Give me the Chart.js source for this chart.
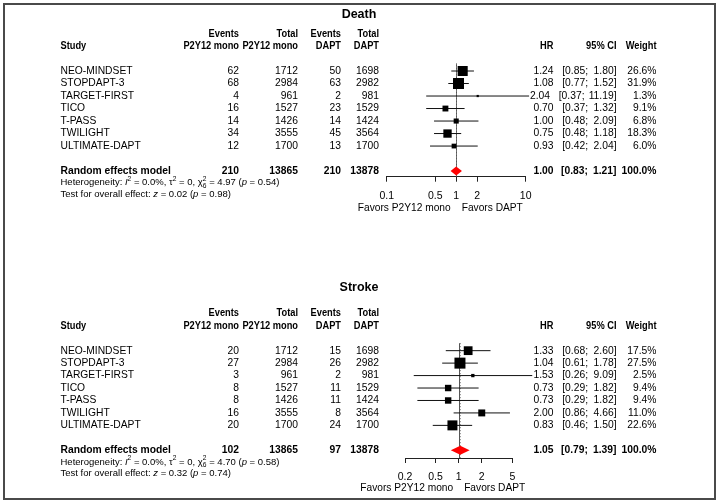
<!DOCTYPE html>
<html>
<head>
<meta charset="utf-8">
<script src="https://cdn.jsdelivr.net/npm/chart.js@4.4.1/dist/chart.umd.min.js"></script>
<style>
  body { margin: 0; background: #fff; }
  #frame { position: absolute; left: 3px; top: 3px; width: 713px; height: 497px; border: 2px solid #4a4a4a; box-sizing: border-box; }
  canvas { position: absolute; left: 0; }
</style>
</head>
<body>
<div id="frame"></div>
<canvas id="death" width="718" height="250" style="top:0px"></canvas>
<canvas id="stroke" width="718" height="253" style="top:250px"></canvas>
<script>
// studies and group sizes (same in both panels)
const studies = ['NEO-MINDSET', 'STOPDAPT-3', 'TARGET-FIRST', 'TICO', 'T-PASS', 'TWILIGHT', 'ULTIMATE-DAPT'];
const totalMono = [1712, 2984, 961, 1527, 1426, 3555, 1700];
const totalDapt = [1698, 2982, 981, 1529, 1424, 3564, 1700];

// death
const deathEventsMono = [62, 68, 4, 16, 14, 34, 12];
const deathEventsDapt = [50, 63, 2, 23, 14, 45, 13];
const deathHR = [1.24, 1.08, 2.04, 0.70, 1.00, 0.75, 0.93];
const deathLower = [0.85, 0.77, 0.37, 0.37, 0.48, 0.48, 0.42];
const deathUpper = [1.80, 1.52, 11.19, 1.32, 2.09, 1.18, 2.04];
const deathWeight = [26.6, 31.9, 1.3, 9.1, 6.8, 18.3, 6.0];
const deathPooled = [1.00, 0.83, 1.21];          // HR, lower, upper
const deathTotals = [210, 13865, 210, 13878];
const deathHet = ['0.0', '0', '4.97', 6, '0.54']; // I2, tau2, chi2, df, p
const deathTest = ['0.02', '0.98'];              // z, p
const deathTicks = [0.1, 0.5, 1, 2, 10];

// stroke
const strokeEventsMono = [20, 27, 3, 8, 8, 16, 20];
const strokeEventsDapt = [15, 26, 2, 11, 11, 8, 24];
const strokeHR = [1.33, 1.04, 1.53, 0.73, 0.73, 2.00, 0.83];
const strokeLower = [0.68, 0.61, 0.26, 0.29, 0.29, 0.86, 0.46];
const strokeUpper = [2.60, 1.78, 9.09, 1.82, 1.82, 4.66, 1.50];
const strokeWeight = [17.5, 27.5, 2.5, 9.4, 9.4, 11.0, 22.6];
const strokePooled = [1.05, 0.79, 1.39];
const strokeTotals = [102, 13865, 97, 13878];
const strokeHet = ['0.0', '0', '4.70', 6, '0.58'];
const strokeTest = ['0.32', '0.74'];
const strokeTicks = [0.2, 0.5, 1, 2, 5];

const FONT = '"Liberation Sans", Arial, Helvetica, sans-serif';
const FS = 10.3;   // table rows
const HS = 10.3;   // column headers (drawn a bit narrower)
const HX = 0.9;

// column x positions (right edges unless noted)
const COL = { study: 60.5, evMono: 239, totMono: 298, evDapt: 341, totDapt: 379, hr: 553.5, ciMid: 588, ci: 616.5, wt: 656.5 };

function setFont(ctx, size, bold, italic) {
  ctx.font = (italic ? 'italic ' : '') + (bold ? 'bold ' : '') + size + 'px ' + FONT;
}

function text(ctx, s, x, y, align, size, bold, sx) {
  setFont(ctx, size, bold);
  ctx.textAlign = align;
  ctx.save();
  ctx.translate(x, y);
  ctx.scale(sx || 1, 1);
  ctx.fillText(s, 0, 0);
  ctx.restore();
}

// draws mixed text: [str, style] with style '', 'i', 'sup', 'stack' ("2|6")
function rich(ctx, x, y, parts, size) {
  ctx.textAlign = 'left';
  parts.forEach(([s, st]) => {
    if (st === 'sup') {
      setFont(ctx, size * 0.7);
      ctx.fillText(s, x, y - size * 0.38);
      x += ctx.measureText(s).width;
    } else if (st === 'stack') {
      const [a, b] = s.split('|');
      setFont(ctx, size * 0.7);
      ctx.fillText(a, x, y - size * 0.38);
      ctx.fillText(b, x, y + size * 0.38);
      x += Math.max(ctx.measureText(a).width, ctx.measureText(b).width);
    } else {
      setFont(ctx, size, false, st === 'i');
      ctx.fillText(s, x, y);
      x += ctx.measureText(s).width;
    }
  });
}

function makePanel(cfg) {
  const n = studies.length;
  const reRow = n + 2;
  const maxW = Math.max(...cfg.weight);
  const squares = cfg.hr.map((v, i) => ({ x: v, y: i + 1 }));
  const sizes = cfg.weight.map(w => 11 * Math.sqrt(w / maxW) / Math.SQRT2);
  const ciPts = [];
  cfg.lower.forEach((lo, i) => {
    ciPts.push({ x: lo, y: i + 1 }, { x: cfg.upper[i], y: i + 1 }, { x: cfg.upper[i], y: null });
  });
  const L = cfg.layout;

  const forest = {
    id: 'forest_' + cfg.id,
    beforeDatasetsDraw(chart) {
      const { ctx, chartArea: a, scales: { x } } = chart;
      ctx.save();
      const x1 = Math.round(x.getPixelForValue(1)) + 0.5;
      ctx.strokeStyle = '#555';
      ctx.lineWidth = 1;
      ctx.beginPath(); ctx.moveTo(x1, a.top); ctx.lineTo(x1, a.bottom); ctx.stroke();
      const xp = Math.round(x.getPixelForValue(cfg.pooled[0])) + 0.5;
      ctx.strokeStyle = '#888';
      ctx.setLineDash([1, 2]);
      ctx.beginPath(); ctx.moveTo(xp, a.top); ctx.lineTo(xp, a.bottom); ctx.stroke();
      ctx.restore();
    },
    afterDatasetsDraw(chart) {
      const { ctx, scales: { x, y } } = chart;
      const cy = y.getPixelForValue(reRow);
      const xl = x.getPixelForValue(cfg.pooled[1]);
      const xm = x.getPixelForValue(cfg.pooled[0]);
      const xr = x.getPixelForValue(cfg.pooled[2]);
      ctx.save();
      ctx.fillStyle = '#ff0000';
      ctx.beginPath();
      ctx.moveTo(xl, cy); ctx.lineTo(xm, cy - 4.5); ctx.lineTo(xr, cy); ctx.lineTo(xm, cy + 4.5);
      ctx.closePath(); ctx.fill();
      ctx.restore();
    },
    afterDraw(chart) {
      const { ctx, scales: { x, y } } = chart;
      ctx.save();
      ctx.fillStyle = '#000';
      ctx.textBaseline = 'middle';
      text(ctx, cfg.title, 359, L.titleY, 'center', 12.5, true);
      // headers
      text(ctx, 'Study', COL.study, L.head2Y, 'left', HS, true, HX);
      [['Events', 'P2Y12 mono', COL.evMono], ['Total', 'P2Y12 mono', COL.totMono],
       ['Events', 'DAPT', COL.evDapt], ['Total', 'DAPT', COL.totDapt]].forEach(([h1, h2, cx]) => {
        text(ctx, h1, cx, L.head1Y, 'right', HS, true, HX);
        text(ctx, h2, cx, L.head2Y, 'right', HS, true, HX);
      });
      text(ctx, 'HR', COL.hr, L.head2Y, 'right', HS, true, HX);
      text(ctx, '95% CI', COL.ci, L.head2Y, 'right', HS, true, HX);
      text(ctx, 'Weight', COL.wt, L.head2Y, 'right', HS, true, HX);
      // study rows
      studies.forEach((s, i) => {
        const ry = y.getPixelForValue(i + 1);
        const up = cfg.upper[i].toFixed(2);
        const shift = up.length > 4 ? -3.5 : 0;   // wide upper limit pushes the CI text left
        text(ctx, s, COL.study, ry, 'left', FS);
        text(ctx, String(cfg.evMono[i]), COL.evMono, ry, 'right', FS);
        text(ctx, String(totalMono[i]), COL.totMono, ry, 'right', FS);
        text(ctx, String(cfg.evDapt[i]), COL.evDapt, ry, 'right', FS);
        text(ctx, String(totalDapt[i]), COL.totDapt, ry, 'right', FS);
        text(ctx, cfg.hr[i].toFixed(2), COL.hr + shift, ry, 'right', FS);
        text(ctx, '[' + cfg.lower[i].toFixed(2) + ';', COL.ciMid + shift, ry, 'right', FS);
        text(ctx, up + ']', COL.ci, ry, 'right', FS);
        text(ctx, cfg.weight[i].toFixed(1) + '%', COL.wt, ry, 'right', FS);
      });
      // pooled row
      const py = y.getPixelForValue(reRow);
      text(ctx, 'Random effects model', COL.study, py, 'left', FS, true);
      text(ctx, String(cfg.totals[0]), COL.evMono, py, 'right', FS, true);
      text(ctx, String(cfg.totals[1]), COL.totMono, py, 'right', FS, true);
      text(ctx, String(cfg.totals[2]), COL.evDapt, py, 'right', FS, true);
      text(ctx, String(cfg.totals[3]), COL.totDapt, py, 'right', FS, true);
      text(ctx, cfg.pooled[0].toFixed(2), COL.hr, py, 'right', FS, true);
      text(ctx, '[' + cfg.pooled[1].toFixed(2) + ';', COL.ciMid, py, 'right', FS, true);
      text(ctx, cfg.pooled[2].toFixed(2) + ']', COL.ci, py, 'right', FS, true);
      text(ctx, '100.0%', COL.wt, py, 'right', FS, true);
      // heterogeneity and test
      const h = cfg.het;
      rich(ctx, COL.study, py + 11.6, [
        ['Heterogeneity: ', ''], ['I', 'i'], ['2', 'sup'], [' = ' + h[0] + '%, ', ''],
        ['\u03c4', ''], ['2', 'sup'], [' = ' + h[1] + ', ', ''],
        ['\u03c7', ''], ['2|' + h[3], 'stack'], [' = ' + h[2] + ' (', ''], ['p', 'i'], [' = ' + h[4] + ')', '']
      ], 9.5);
      rich(ctx, COL.study, py + 23.2, [
        ['Test for overall effect: ', ''], ['z', 'i'], [' = ' + cfg.test[0] + ' (', ''],
        ['p', 'i'], [' = ' + cfg.test[1] + ')', '']
      ], 9.5);
      // favours labels
      const x1 = x.getPixelForValue(1);
      text(ctx, 'Favors P2Y12 mono', x1 - 5.5, L.favY, 'right', 10.2);
      text(ctx, 'Favors DAPT', x1 + 5.5, L.favY, 'left', 10.2);
      ctx.restore();
    }
  };

  new Chart(document.getElementById(cfg.id), {
    type: 'scatter',
    data: {
      datasets: [
        { type: 'scatter', data: squares, pointStyle: 'rect', pointRadius: sizes, backgroundColor: '#000',
          borderWidth: 0, clip: false, order: 0 },
        { type: 'line', data: ciPts, borderColor: '#111', borderWidth: 1, pointRadius: 0, fill: false,
          spanGaps: false, clip: false, tension: 0, order: 1 }
      ]
    },
    options: {
      responsive: false,
      animation: false,
      events: [],
      devicePixelRatio: 1,
      layout: { padding: { left: L.padLeft, right: L.padRight, top: L.padTop, bottom: L.padBottom } },
      plugins: { legend: { display: false }, tooltip: { enabled: false } },
      scales: {
        x: {
          type: 'logarithmic',
          min: cfg.ticks[0],
          max: cfg.ticks[cfg.ticks.length - 1],
          afterBuildTicks: s => { s.ticks = cfg.ticks.map(v => ({ value: v })); },
          afterFit: s => { s.height = 30; },
          ticks: { callback: v => String(v), autoSkip: false, maxRotation: 0, padding: 8,
                   color: '#000', font: { family: FONT, size: 10.5 } },
          grid: { display: true, drawOnChartArea: false, drawTicks: true, tickLength: 5, color: '#222', lineWidth: 1 },
          border: { display: true, color: '#222', width: 1 }
        },
        y: { type: 'linear', reverse: true, min: L.yMin, max: L.yMax, display: false }
      }
    },
    plugins: [forest]
  });
}

makePanel({
  id: 'death', title: 'Death',
  evMono: deathEventsMono, evDapt: deathEventsDapt, hr: deathHR, lower: deathLower, upper: deathUpper,
  weight: deathWeight, pooled: deathPooled, totals: deathTotals, het: deathHet, test: deathTest, ticks: deathTicks,
  layout: { titleY: 15, head1Y: 34.5, head2Y: 46.5, yMin: 0.4, yMax: 9.45,
            padLeft: 386.7, padRight: 192.3, padTop: 63.5, padBottom: 43.3, favY: 208 }
});

makePanel({
  id: 'stroke', title: 'Stroke',
  evMono: strokeEventsMono, evDapt: strokeEventsDapt, hr: strokeHR, lower: strokeLower, upper: strokeUpper,
  weight: strokeWeight, pooled: strokePooled, totals: strokeTotals, het: strokeHet, test: strokeTest, ticks: strokeTicks,
  layout: { titleY: 37.3, head1Y: 63.5, head2Y: 76, yMin: 0.4, yMax: 9.62,
            padLeft: 405, padRight: 205.7, padTop: 93.2, padBottom: 15, favY: 237.7 }
});
</script>
</body>
</html>
